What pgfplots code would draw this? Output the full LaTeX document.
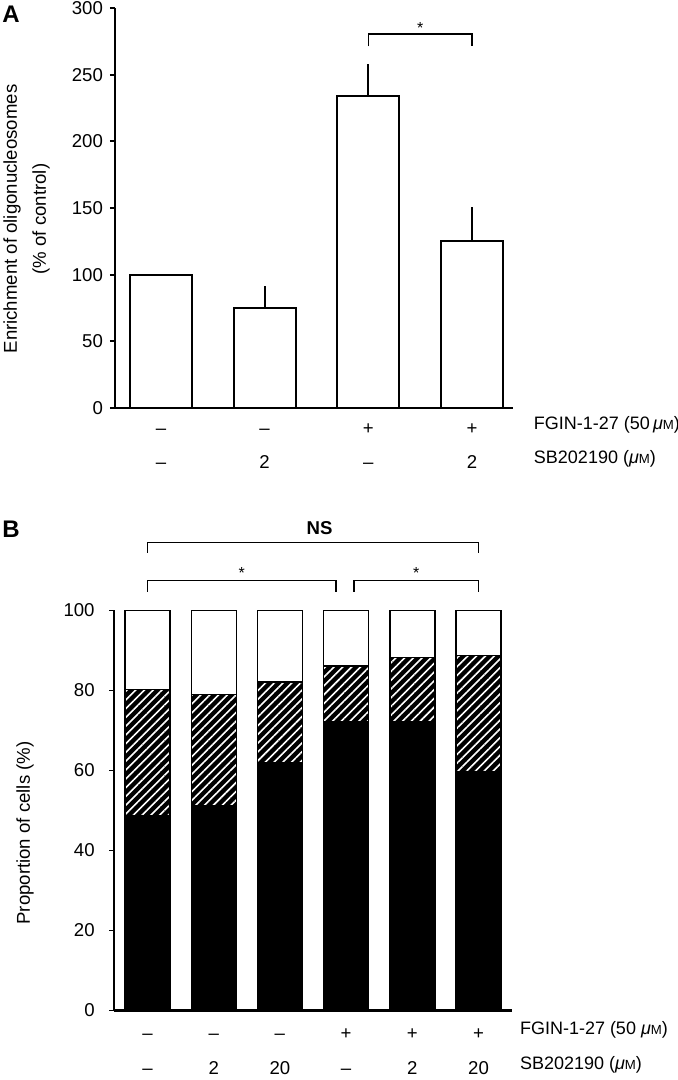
\documentclass[border=0pt]{standalone}
\usepackage{fontspec}
\setmainfont{Liberation Sans}
\usepackage{pgfplots}
\pgfplotsset{compat=1.18}
\usetikzlibrary{patterns.meta}
\newcommand{\uM}{\textit{μ}{\fontsize{6.6}{8}\selectfont M}}
\begin{document}
\begin{tikzpicture}[font=\fontsize{9.3}{11}\selectfont]
\path[use as bounding box] (0,0) rectangle (339pt,540pt);
\pgfplotsset{
  base/.style={
    scale only axis,
    axis x line*=bottom, axis y line*=left,
    axis line style={line width=1pt, black},
    tick align=outside, major tick length=2.5pt,
    tick style={line width=0.9pt, black},
    xtick style={draw=none},
    clip=false,
    /pgf/number format/assume math mode=true,
    ticklabel style={font=\fontsize{9.3}{11}\selectfont},
    yticklabel style={anchor=east, inner sep=0pt},
    xticklabel style={anchor=base, inner sep=0pt},
  }
}
% Panel labels
\node[font=\fontsize{12}{14}\selectfont\bfseries] at (5.5pt,533pt) {A};
\node[font=\fontsize{12}{14}\selectfont\bfseries] at (5.5pt,275.5pt) {B};
% y labels
\node[rotate=90, align=center, font=\fontsize{9.3}{14.5}\selectfont] at (13.25pt,430.5pt) {Enrichment of oligonucleosomes\\(\% of control)};
\node[rotate=90, font=\fontsize{9.3}{11}\selectfont] at (12.5pt,123.5pt) {Proportion of cells (\%)};

% ---------------- Panel A ----------------
\begin{axis}[base,
  at={(57.5pt,336pt)}, anchor=south west,
  width=199pt, height=200pt,
  xmin=-0.444, xmax=3.396, ymin=0, ymax=300,
  ytick={0,50,...,300},
  yticklabel style={xshift=-3.35pt},
  xtick={0,1,2,3}, xticklabels={–,–,+,+},
  extra x ticks={0,1,2,3}, extra x tick labels={–,2,–,2},
  xticklabel style={yshift=-10.8pt},
  extra x tick style={xtick style={draw=none}, xticklabel style={yshift=-17pt}},
]
\addplot[ybar, bar width=31pt, bar shift=0pt, fill=white, draw=black, line width=0.9pt]
  table[x=x, y=y] {
x y
0 100
};
\addplot[ybar, bar width=31pt, bar shift=0pt, fill=white, draw=black, line width=0.9pt,
  error bars/.cd, y dir=plus, y explicit,
  error bar style={line width=0.9pt, black},
  error mark options={mark size=1pt, line width=0.9pt, black}]
  table[x=x, y=y, y error=e] {
x y e
1 75 14.8
2 234 22.4
3 125.4 23.5
};
\draw[line width=0.8pt] (axis cs:2,271.3) -- (axis cs:2,280.5) -- (axis cs:3,280.5) -- (axis cs:3,271.3);
\node[font=\fontsize{8}{9}\selectfont] at (axis cs:2.5,285) {*};
\node[anchor=base west, font=\fontsize{9}{11}\selectfont] at ([yshift=-10.8pt]axis cs:3.53,0) {FGIN-1-27 (50\,\uM)};
\node[anchor=base west, font=\fontsize{9}{11}\selectfont] at ([yshift=-27.8pt]axis cs:3.53,0) {SB202190 (\uM)};
\end{axis}

% ---------------- Panel B ----------------
\begin{axis}[base,
  at={(57pt,34.75pt)}, anchor=south west,
  width=199pt, height=200pt,
  xmin=-0.506, xmax=5.506, ymin=0, ymax=100,
  ytick={0,20,...,100},
  yticklabel style={xshift=-7pt},
  ybar stacked, bar width=22.5pt,
  xtick={0,1,2,3,4,5}, xticklabels={–,–,–,+,+,+},
  extra x ticks={0,1,2,3,4,5}, extra x tick labels={–,2,20,–,2,20},
  xticklabel style={yshift=-12.1pt},
  extra x tick style={xtick style={draw=none}, xticklabel style={yshift=-17.6pt}},
]
\addplot[fill=black, draw=black, line width=0.7pt]
  coordinates {(0,48.6) (1,51.2) (2,61.9) (3,72.1) (4,72.1) (5,59.8)};
\addplot[preaction={fill=black}, pattern={Lines[angle=45,distance=3.1pt,line width=0.8pt]}, pattern color=white, draw=black, line width=0.7pt]
  coordinates {(0,31.7) (1,27.8) (2,20.2) (3,14.0) (4,16.1) (5,28.95)};
\addplot[fill=white, draw=black, line width=0.7pt]
  coordinates {(0,19.7) (1,21.0) (2,17.9) (3,13.9) (4,11.8) (5,11.25)};
\draw[line width=0.8pt] (axis cs:0,114.4) -- (axis cs:0,116.95) -- (axis cs:5,116.95) -- (axis cs:5,114.4);
\node[font=\fontsize{9.3}{11}\selectfont\bfseries] at (axis cs:2.6,120.6) {NS};
\draw[line width=0.8pt] (axis cs:0,104.7) -- (axis cs:0,107.45) -- (axis cs:2.85,107.45) -- (axis cs:2.85,104.7);
\node[font=\fontsize{8}{9}\selectfont] at (axis cs:1.425,109.3) {*};
\draw[line width=0.8pt] (axis cs:3.12,104.7) -- (axis cs:3.12,107.45) -- (axis cs:5,107.45) -- (axis cs:5,104.7);
\node[font=\fontsize{8}{9}\selectfont] at (axis cs:4.06,109.3) {*};
\node[anchor=base west, font=\fontsize{9}{11}\selectfont] at ([yshift=-12.1pt]axis cs:5.52,0) {FGIN-1-27 (50 \uM)};
\node[anchor=base west, font=\fontsize{9}{11}\selectfont] at ([yshift=-29.7pt]axis cs:5.52,0) {SB202190 (\uM)};
\end{axis}
\end{tikzpicture}
\end{document}
